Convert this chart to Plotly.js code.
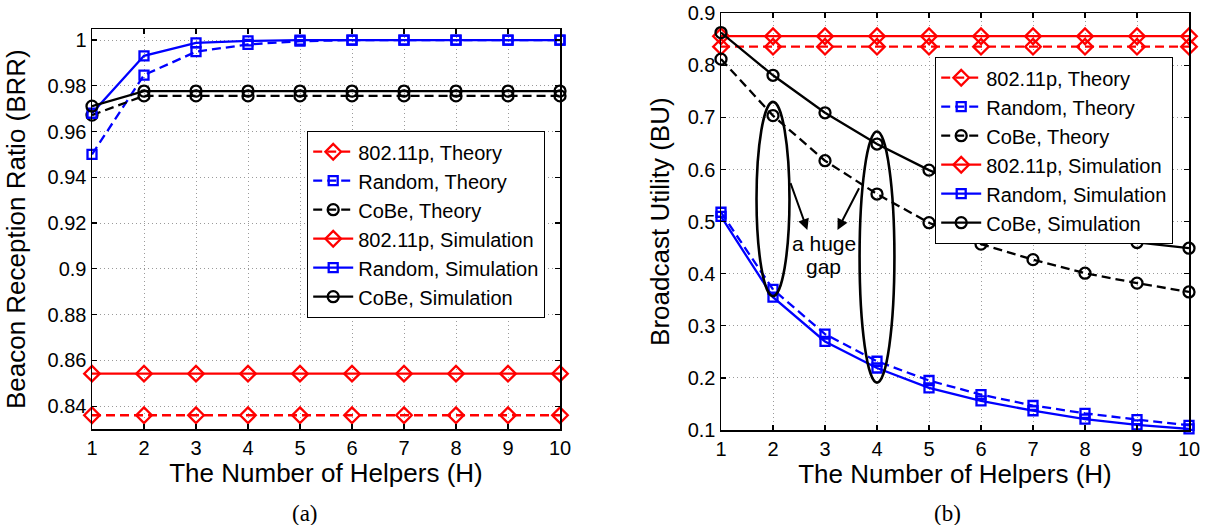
<!DOCTYPE html>
<html>
<head>
<meta charset="utf-8">
<script src="https://cdn.plot.ly/plotly-3.0.1.min.js"></script>
<style>html,body{margin:0;padding:0;background:#fff;}#chart{width:1208px;height:525px;}</style>
</head>
<body>
<div id="chart"></div>
<script>
// ---------- data ----------
const helpers = [1, 2, 3, 4, 5, 6, 7, 8, 9, 10];

// (a) Beacon Reception Ratio
const brr80211pTheory = [0.836, 0.836, 0.836, 0.836, 0.836, 0.836, 0.836, 0.836, 0.836, 0.836];
const brrRandomTheory = [0.950, 0.9847, 0.9949, 0.9981, 0.9995, 1.0, 1.0, 1.0, 1.0, 1.0];
const brrCobeTheory   = [0.9672, 0.9756, 0.9756, 0.9756, 0.9756, 0.9756, 0.9756, 0.9756, 0.9756, 0.9756];
const brr80211pSim    = [0.8542, 0.8542, 0.8542, 0.8542, 0.8542, 0.8542, 0.8542, 0.8542, 0.8542, 0.8542];
const brrRandomSim    = [0.968, 0.9931, 0.9988, 0.9996, 1.0, 1.0, 1.0, 1.0, 1.0, 1.0];
const brrCobeSim      = [0.9711, 0.9777, 0.9777, 0.9777, 0.9777, 0.9777, 0.9777, 0.9777, 0.9777, 0.9777];

// (b) Broadcast Utility
const bu80211pTheory = [0.836, 0.836, 0.836, 0.836, 0.836, 0.836, 0.836, 0.836, 0.836, 0.836];
const buRandomTheory = [0.518, 0.370, 0.284, 0.232, 0.195, 0.168, 0.147, 0.132, 0.120, 0.109];
const buCobeTheory   = [0.812, 0.7035, 0.617, 0.553, 0.498, 0.457, 0.427, 0.401, 0.382, 0.365];
const bu80211pSim    = [0.856, 0.856, 0.856, 0.856, 0.856, 0.856, 0.856, 0.856, 0.856, 0.856];
const buRandomSim    = [0.510, 0.355, 0.270, 0.219, 0.181, 0.156, 0.137, 0.121, 0.110, 0.102];
const buCobeSim      = [0.863, 0.781, 0.709, 0.649, 0.599, 0.558, 0.521, 0.487, 0.460, 0.449];

const seriesNames = ['802.11p, Theory', 'Random, Theory', 'CoBe, Theory',
                     '802.11p, Simulation', 'Random, Simulation', 'CoBe, Simulation'];

// ticks
const xTickVals = [1, 2, 3, 4, 5, 6, 7, 8, 9, 10];
const xTickText = ['1', '2', '3', '4', '5', '6', '7', '8', '9', '10'];
const brrTickVals = [0.84, 0.86, 0.88, 0.9, 0.92, 0.94, 0.96, 0.98, 1];
const brrTickText = ['0.84', '0.86', '0.88', '0.9', '0.92', '0.94', '0.96', '0.98', '1'];
const buTickVals = [0.1, 0.2, 0.3, 0.4, 0.5, 0.6, 0.7, 0.8, 0.9];
const buTickText = ['0.1', '0.2', '0.3', '0.4', '0.5', '0.6', '0.7', '0.8', '0.9'];

// annotation text
const gapText1 = 'a huge';
const gapText2 = 'gap';
const captionA = '(a)';
const captionB = '(b)';

// ---------- styles ----------
const FONT = 'Liberation Sans, Arial, Helvetica, sans-serif';
const RED = '#ff0000', BLUE = '#0000ff', BLACK = '#000000';
const DASH = '9px,5px';
const LW = 2.3;

const styles = [
  {color: RED,   dash: DASH,    symbol: 'diamond-open', size: 12},
  {color: BLUE,  dash: DASH,    symbol: 'square-open',  size: 9},
  {color: BLACK, dash: DASH,    symbol: 'circle-open',  size: 11},
  {color: RED,   dash: 'solid', symbol: 'diamond-open', size: 12},
  {color: BLUE,  dash: 'solid', symbol: 'square-open',  size: 9},
  {color: BLACK, dash: 'solid', symbol: 'circle-open',  size: 11}
];

function mk(y, i, xa, ya, leg) {
  const s = styles[i];
  return {
    x: helpers, y: y, xaxis: xa, yaxis: ya, legend: leg,
    type: 'scatter', mode: 'lines+markers', name: seriesNames[i],
    cliponaxis: false,
    line: {color: s.color, width: LW, dash: s.dash},
    marker: {symbol: s.symbol, size: s.size, color: s.color, line: {color: s.color, width: 2.3}}
  };
}

const leftSeries = [brr80211pTheory, brrRandomTheory, brrCobeTheory, brr80211pSim, brrRandomSim, brrCobeSim];
const rightSeries = [bu80211pTheory, buRandomTheory, buCobeTheory, bu80211pSim, buRandomSim, buCobeSim];

const data = [];
leftSeries.forEach((y, i) => data.push(mk(y, i, 'x', 'y', 'legend')));
rightSeries.forEach((y, i) => data.push(mk(y, i, 'x2', 'y2', 'legend2')));

const W = 1208, Hh = 525;
function axisBase() {
  return {
    showline: true, linecolor: BLACK, linewidth: 1.5, mirror: 'ticks',
    ticks: 'inside', ticklen: 5, tickwidth: 1.2, tickcolor: BLACK,
    showgrid: true, gridcolor: '#9a9a9a', gridwidth: 1, griddash: '1px,3px',
    zeroline: false, automargin: false,
    tickfont: {family: FONT, size: 20, color: BLACK}
  };
}
const titleFont = {family: FONT, size: 26, color: BLACK};

const xaxis = Object.assign(axisBase(), {
  domain: [92 / W, 560 / W], range: [1, 10], anchor: 'y',
  tickmode: 'array', tickvals: xTickVals, ticktext: xTickText,
  title: {text: 'The Number of Helpers (H)', font: titleFont, standoff: 2}
});
const yaxis = Object.assign(axisBase(), {
  domain: [1 - 429 / Hh, 1 - 29.3 / Hh], range: [0.83, 1.0047], anchor: 'x',
  tickmode: 'array', tickvals: brrTickVals, ticktext: brrTickText,
  title: {text: 'Beacon Reception Ratio (BRR)', font: titleFont, standoff: 14}
});
const xaxis2 = Object.assign(axisBase(), {
  domain: [721 / W, 1189 / W], range: [1, 10], anchor: 'y2',
  tickmode: 'array', tickvals: xTickVals, ticktext: xTickText,
  title: {text: 'The Number of Helpers (H)', font: titleFont, standoff: 2}
});
const yaxis2 = Object.assign(axisBase(), {
  domain: [1 - 430 / Hh, 1 - 13.3 / Hh], range: [0.1, 0.9], anchor: 'x2',
  tickmode: 'array', tickvals: buTickVals, ticktext: buTickText,
  title: {text: 'Broadcast Utility (BU)', font: titleFont, standoff: 10}
});

const legendStyle = {
  bgcolor: '#ffffff', bordercolor: BLACK, borderwidth: 1.2,
  font: {family: FONT, size: 20, color: BLACK},
  xanchor: 'left', yanchor: 'top', traceorder: 'normal', tracegroupgap: 0,
  itemwidth: 40
};

const layout = {
  width: W, height: Hh,
  margin: {l: 0, r: 0, t: 0, b: 0, pad: 0},
  paper_bgcolor: '#ffffff', plot_bgcolor: '#ffffff',
  showlegend: true,
  font: {family: FONT, color: BLACK},
  xaxis: xaxis, yaxis: yaxis, xaxis2: xaxis2, yaxis2: yaxis2,
  legend: Object.assign({x: 307 / W, y: 1 - 131 / Hh}, legendStyle),
  legend2: Object.assign({x: 935 / W, y: 1 - 57 / Hh}, legendStyle),
  shapes: [
    {type: 'circle', xref: 'x2', yref: 'y2', x0: 2 - 0.317, x1: 2 + 0.317, y0: 0.357, y1: 0.730,
     line: {color: BLACK, width: 2.6}},
    {type: 'circle', xref: 'x2', yref: 'y2', x0: 4 - 0.335, x1: 4 + 0.335, y0: 0.191, y1: 0.673,
     line: {color: BLACK, width: 2.6}}
  ],
  annotations: [
    {xref: 'x2', yref: 'y2', axref: 'x2', ayref: 'y2', x: 2.66, y: 0.484, ax: 2.327, ay: 0.577,
     showarrow: true, arrowhead: 2, arrowsize: 1.1, arrowwidth: 2, arrowcolor: BLACK, text: ''},
    {xref: 'x2', yref: 'y2', axref: 'x2', ayref: 'y2', x: 3.24, y: 0.484, ax: 3.67, ay: 0.567,
     showarrow: true, arrowhead: 2, arrowsize: 1.1, arrowwidth: 2, arrowcolor: BLACK, text: ''},
    {xref: 'x2', yref: 'y2', x: 2.98, y: 0.4585, text: gapText1, showarrow: false,
     font: {family: FONT, size: 21, color: BLACK}},
    {xref: 'x2', yref: 'y2', x: 2.98, y: 0.4137, text: gapText2, showarrow: false,
     font: {family: FONT, size: 21, color: BLACK}},
    {xref: 'paper', yref: 'paper', x: 305 / W, y: 1 - 513 / Hh, text: captionA, showarrow: false,
     xanchor: 'center', yanchor: 'middle', font: {family: 'Liberation Serif, Times New Roman, serif', size: 23, color: BLACK}},
    {xref: 'paper', yref: 'paper', x: 947 / W, y: 1 - 513 / Hh, text: captionB, showarrow: false,
     xanchor: 'center', yanchor: 'middle', font: {family: 'Liberation Serif, Times New Roman, serif', size: 23, color: BLACK}}
  ]
};

Plotly.newPlot('chart', data, layout, {staticPlot: true, displayModeBar: false});
</script>
</body>
</html>
